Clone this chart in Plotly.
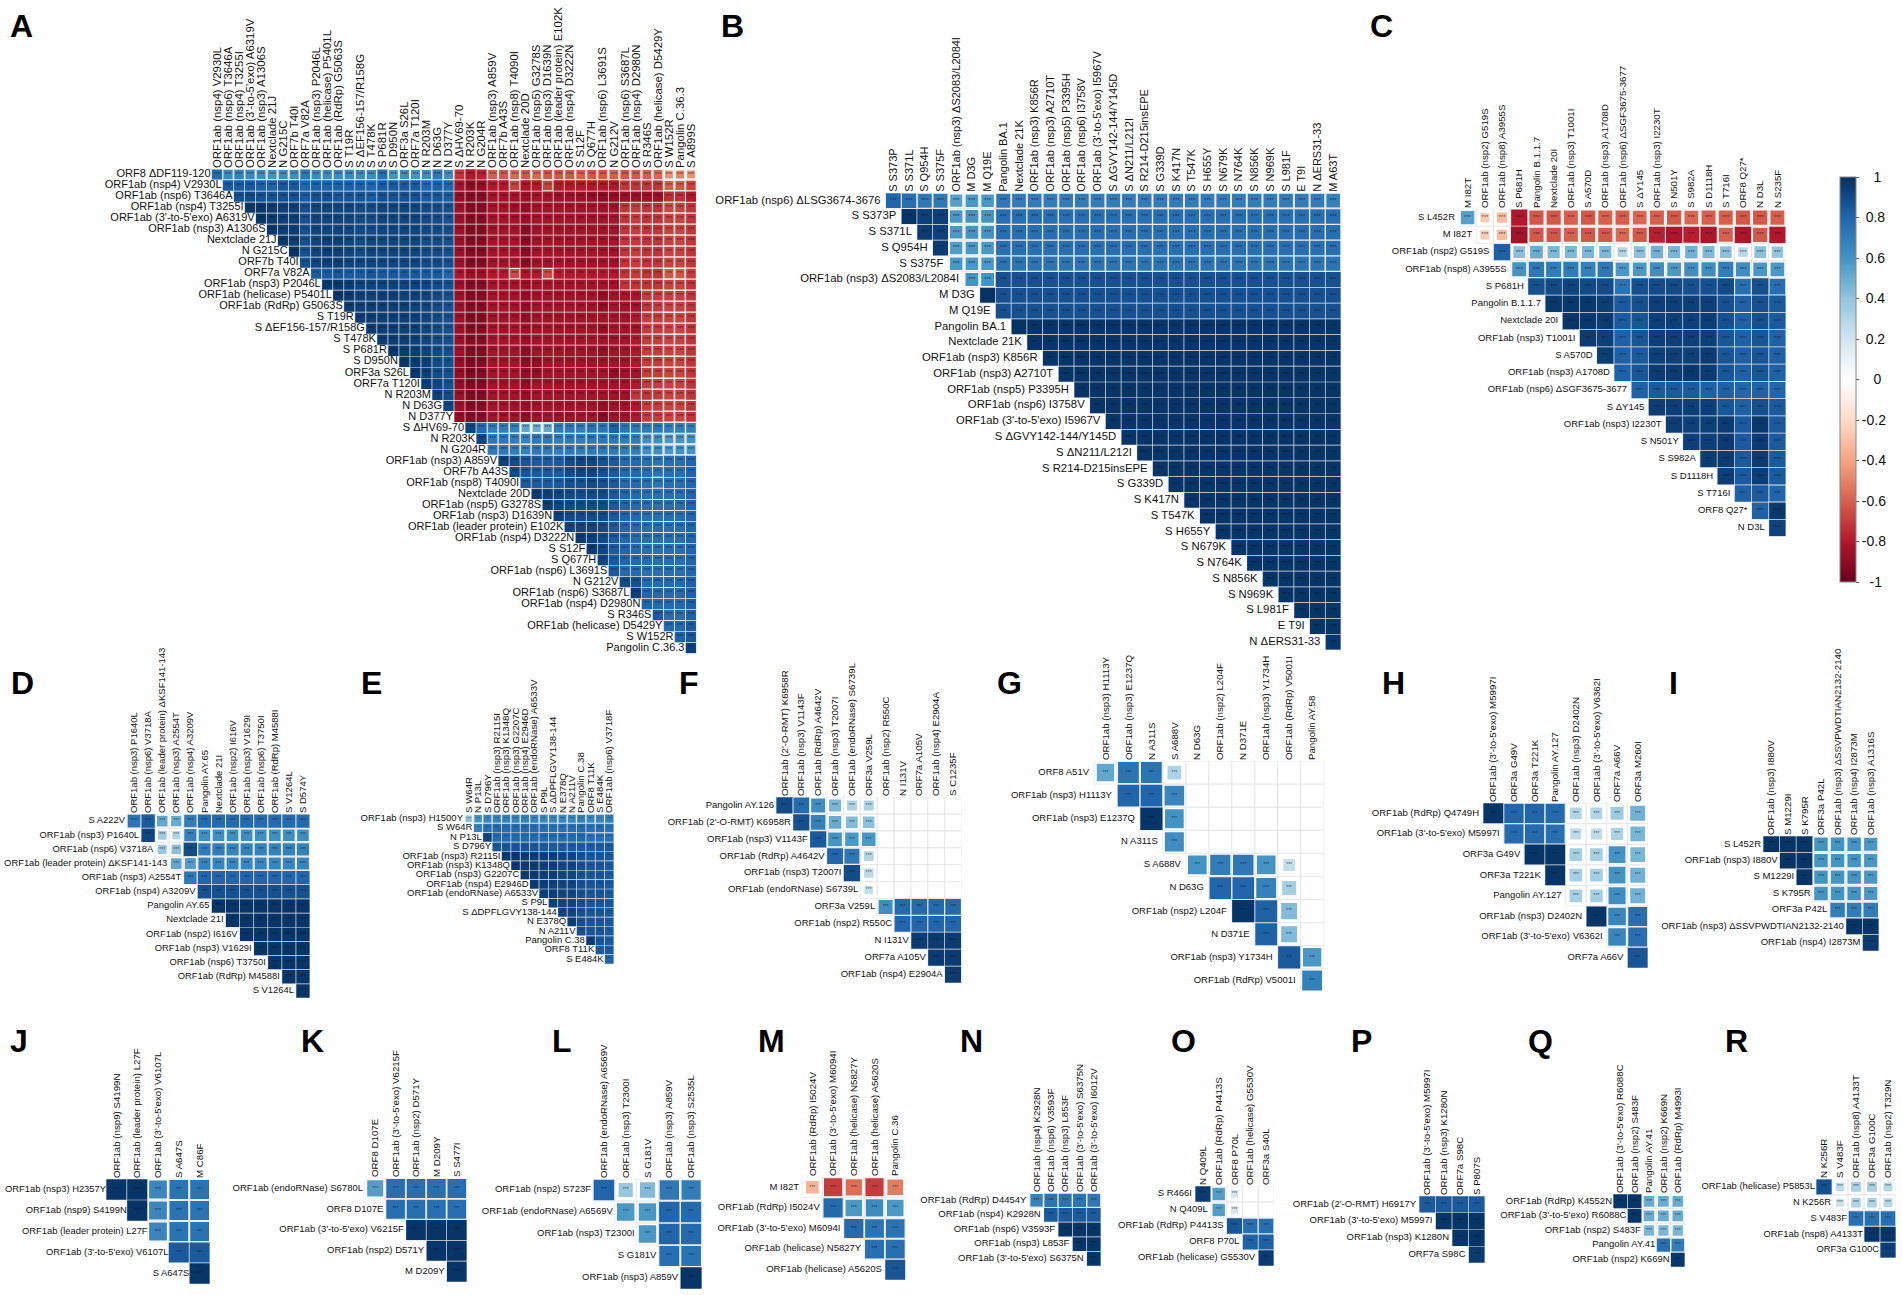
import plotly.graph_objects as go
from plotly.colors import sample_colorscale

P = "ORF1ab "
FONT = "Liberation Sans"
STOPS = ["#67001F", "#B2182B", "#D6604D", "#F4A582", "#FDDBC7", "#FFFFFF",
         "#D1E5F0", "#92C5DE", "#4393C3", "#2166AC", "#053061"]
COLORSCALE = [[k / 10, c] for k, c in enumerate(STOPS)]

A_COLS = [P+"(nsp4) V2930L", P+"(nsp6) T3646A", P+"(nsp4) T3255I", P+"(3'-to-5'exo) A6319V", P+"(nsp3) A1306S", "Nextclade 21J", "N G215C", "ORF7b T40I", "ORF7a V82A", P+"(nsp3) P2046L", P+"(helicase) P5401L", P+"(RdRp) G5063S", "S T19R", "S ΔEF156-157/R158G", "S T478K", "S P681R", "S D950N", "ORF3a S26L", "ORF7a T120I", "N R203M", "N D63G", "N D377Y", "S ΔHV69-70", "N R203K", "N G204R", P+"(nsp3) A859V", "ORF7b A43S", P+"(nsp8) T4090I", "Nextclade 20D", P+"(nsp5) G3278S", P+"(nsp3) D1639N", P+"(leader protein) E102K", P+"(nsp4) D3222N", "S S12F", "S Q677H", P+"(nsp6) L3691S", "N G212V", P+"(nsp6) S3687L", P+"(nsp4) D2980N", "S R346S", P+"(helicase) D5429Y", "S W152R", "Pangolin C.36.3", "S A899S"]
A_FIRST = "ORF8 ΔDF119-120"
A_R = [
[78,65,68,65,62,60,62,62,72,64,64,64,65,64,64,76,60,62,60,62,72,62,-72,-80,-78,-60,-62,-58,-62,-58,-62,-62,-62,-60,-62,-62,-60,-62,-62,-60,-58,-46,-50,-46],
[84,84,84,82,82,84,84,80,82,82,82,82,82,80,84,84,84,84,80,82,80,-84,-90,-88,-80,-80,-68,-82,-80,-68,-80,-80,-80,-80,-80,-80,-72,-72,-72,-72,-60,-62,-68],
[88,90,88,88,88,88,84,88,88,86,86,86,84,88,88,88,88,84,86,84,-88,-92,-92,-84,-84,-84,-86,-84,-84,-86,-86,-86,-88,-90,-88,-86,-86,-86,-86,-74,-74,-80],
[97,97,96,94,94,88,92,92,92,92,90,90,92,92,92,92,90,90,88,-86,-92,-92,-84,-84,-86,-88,-84,-84,-84,-84,-84,-84,-84,-84,-72,-70,-72,-72,-66,-68,-72],
[98,96,94,94,88,92,92,92,92,90,90,92,92,92,92,90,90,88,-86,-92,-92,-84,-84,-84,-86,-84,-84,-84,-84,-84,-84,-84,-84,-72,-70,-72,-72,-68,-68,-72],
[97,95,95,88,92,92,92,92,90,90,92,92,92,92,90,90,88,-86,-92,-92,-84,-84,-84,-90,-84,-84,-84,-84,-84,-84,-84,-84,-72,-70,-72,-72,-68,-68,-72],
[97,96,88,92,94,94,92,90,92,92,92,92,92,90,90,88,-86,-92,-92,-84,-84,-84,-90,-84,-84,-84,-84,-84,-84,-84,-84,-72,-70,-72,-72,-68,-68,-72],
[98,88,92,94,94,92,90,92,92,92,92,92,90,90,88,-86,-92,-92,-84,-84,-84,-90,-84,-84,-84,-84,-84,-84,-84,-84,-72,-70,-72,-72,-68,-68,-72],
[88,92,94,94,92,92,92,92,92,92,92,90,90,88,-86,-92,-92,-84,-84,-84,-90,-84,-84,-84,-84,-84,-84,-84,-84,-72,-70,-72,-72,-68,-68,-72],
[84,84,86,84,84,86,84,84,84,84,84,84,80,-82,-86,-86,-80,-80,-66,-82,-80,-66,-80,-80,-80,-80,-80,-80,-72,-70,-72,-72,-62,-62,-70],
[97,97,95,93,93,93,93,93,93,92,90,88,-86,-92,-92,-84,-84,-84,-86,-84,-84,-84,-84,-84,-84,-84,-84,-72,-72,-72,-72,-68,-68,-72],
[98,96,94,93,94,94,93,93,92,90,88,-86,-92,-92,-84,-84,-84,-88,-84,-84,-84,-84,-84,-84,-88,-84,-82,-82,-70,-70,-68,-68,-72],
[96,94,94,94,94,94,93,92,90,88,-86,-92,-92,-84,-84,-84,-88,-84,-84,-84,-84,-84,-84,-88,-84,-84,-84,-72,-70,-68,-68,-72],
[96,95,95,94,94,94,92,90,88,-86,-92,-92,-84,-84,-84,-88,-84,-84,-84,-84,-84,-84,-84,-84,-84,-80,-70,-70,-68,-68,-72],
[96,96,95,95,94,92,90,88,-86,-92,-92,-84,-84,-84,-86,-84,-84,-84,-84,-84,-84,-88,-84,-84,-84,-70,-70,-68,-68,-72],
[96,95,95,94,92,90,88,-86,-92,-92,-84,-84,-84,-86,-84,-84,-84,-84,-84,-84,-84,-84,-84,-80,-70,-70,-68,-68,-72],
[97,96,95,93,90,88,-86,-92,-92,-84,-84,-84,-88,-84,-84,-84,-84,-84,-84,-88,-84,-84,-80,-70,-70,-68,-68,-72],
[97,96,94,90,88,-88,-93,-92,-84,-84,-84,-88,-88,-84,-84,-84,-84,-84,-84,-84,-84,-80,-70,-70,-68,-68,-72],
[97,94,90,88,-88,-93,-92,-84,-84,-84,-88,-88,-84,-84,-84,-84,-84,-84,-88,-84,-84,-70,-70,-68,-68,-72],
[95,92,88,-88,-92,-92,-84,-84,-84,-88,-84,-84,-84,-84,-84,-84,-84,-84,-84,-80,-70,-70,-68,-68,-72],
[94,90,-86,-92,-92,-84,-84,-84,-86,-84,-84,-84,-84,-84,-84,-84,-84,-84,-72,-72,-70,-68,-68,-72],
[92,-86,-92,-90,-84,-84,-84,-86,-84,-84,-84,-84,-84,-84,-88,-84,-84,-80,-70,-70,-68,-68,-72],
[-88,-92,-90,-84,-84,-84,-88,-84,-84,-84,-84,-84,-84,-90,-84,-84,-80,-70,-70,-68,-68,-72],
[92,78,70,70,68,52,50,52,70,72,70,74,74,82,74,72,72,72,70,70,70],
[92,72,72,70,68,72,72,70,72,70,72,72,72,70,70,62,62,58,60,60],
[72,72,70,68,72,72,70,72,70,72,72,72,70,70,62,62,58,60,60],
[94,90,86,84,84,84,90,92,92,88,84,78,78,76,74,76,76,80],
[90,86,84,84,84,90,92,92,88,84,78,78,76,74,76,76,80],
[84,84,84,84,88,88,90,88,84,78,78,76,74,76,76,80],
[96,94,92,90,90,90,90,84,80,78,76,76,76,76,80],
[96,92,90,90,90,90,84,80,78,76,76,76,76,80],
[94,90,90,90,90,84,80,78,76,76,76,76,80],
[92,92,92,90,84,80,78,76,76,76,76,80],
[96,94,90,84,80,78,76,76,76,76,80],
[96,92,84,80,78,76,76,76,76,80],
[92,84,80,78,76,76,76,76,80],
[84,78,78,76,76,76,76,80],
[90,88,78,78,78,78,82],
[94,80,78,78,78,82],
[80,78,78,78,82],
[84,76,76,82],
[78,78,84],
[82,86],
[94],
]

B_COLS = ["S S373P", "S S371L", "S Q954H", "S S375F", P+"(nsp3) ΔS2083/L2084I", "M D3G", "M Q19E", "Pangolin BA.1", "Nextclade 21K", P+"(nsp3) K856R", P+"(nsp3) A2710T", P+"(nsp5) P3395H", P+"(nsp6) I3758V", P+"(3'-to-5'exo) I5967V", "S ΔGVY142-144/Y145D", "S ΔN211/L212I", "S R214-D215insEPE", "S G339D", "S K417N", "S T547K", "S H655Y", "S N679K", "S N764K", "S N856K", "S N969K", "S L981F", "E T9I", "N ΔERS31-33", "M A63T"]
B_FIRST = P+"(nsp6) ΔLSG3674-3676"
B_R = [
[80,76,72,72,55,58,58,72,70,70,70,70,70,70,70,70,70,70,70,70,70,70,70,70,70,70,70,70,68],
[98,94,94,58,60,60,76,76,76,76,76,76,76,76,76,76,76,76,76,76,76,76,76,76,76,76,76,76],
[96,94,58,60,60,76,76,76,76,76,76,76,76,76,76,76,76,76,76,76,76,76,76,76,76,76,76],
[96,56,58,58,76,76,76,76,76,76,76,76,76,76,76,76,76,76,76,76,76,76,76,76,76,76],
[58,58,58,74,74,74,74,74,74,74,74,74,74,74,74,74,74,74,74,74,74,74,74,74,74],
[60,60,88,88,88,88,88,88,88,88,88,88,88,88,88,88,88,88,88,88,88,88,88,88],
[99,88,88,88,88,88,88,88,88,88,88,88,88,88,88,88,88,88,88,88,88,88,88],
[88,88,88,88,88,88,88,88,88,88,88,88,88,88,88,88,88,88,88,88,88,88],
[99,98,98,98,98,98,98,98,98,98,98,98,98,98,98,98,98,98,98,98,98],
[98,98,98,98,98,98,98,98,98,98,98,98,98,98,98,98,98,98,98,98],
[98,98,98,98,98,98,98,98,98,98,98,98,98,98,98,98,98,98,98],
[98,98,98,98,98,98,98,98,98,98,98,98,98,98,98,98,98,98],
[98,98,98,98,98,98,98,98,98,98,98,98,98,98,98,98,98],
[98,98,98,98,98,98,98,98,98,98,98,98,98,98,98,98],
[98,98,98,98,98,98,98,98,98,98,98,98,98,98,98],
[98,98,98,98,98,98,98,98,98,98,98,98,98,98],
[98,98,98,98,98,98,98,98,98,98,98,98,98],
[98,98,98,98,98,98,98,98,98,98,98,98],
[98,98,98,98,98,98,98,98,98,98,98],
[98,98,98,98,98,98,98,98,98,98],
[98,98,98,98,98,98,98,98,98],
[98,98,98,98,98,98,98,98],
[98,98,98,98,98,98,98],
[98,98,98,98,98,98],
[98,98,98,98,98],
[98,98,98,98],
[98,98,98],
[98,98],
[97],
]

C_COLS = ["M I82T", P+"(nsp2) G519S", P+"(nsp8) A3955S", "S P681H", "Pangolin B.1.1.7", "Nextclade 20I", P+"(nsp3) T1001I", "S A570D", P+"(nsp3) A1708D", P+"(nsp6) ΔSGF3675-3677", "S ΔY145", P+"(nsp3) I2230T", "S N501Y", "S S982A", "S D1118H", "S T716I", "ORF8 Q27*", "N D3L", "N S235F"]
C_FIRST = "S L452R"
C_R = [
[55,-25,-32,-80,-62,-62,-60,-62,-60,-60,-58,-60,-62,-58,-60,-60,-62,-62,-60],
[-25,-32,-84,-62,-62,-60,-62,-62,-58,-62,-78,-82,-78,-82,-60,-82,-62,-80],
[82,42,50,45,45,45,45,30,42,48,46,48,45,42,28,42,40],
[60,72,70,70,68,72,58,58,62,58,62,62,70,62,58,58],
[88,90,92,90,90,74,88,90,90,88,88,90,76,88,76],
[97,97,97,95,84,88,94,94,94,94,88,82,88,84],
[98,97,96,84,86,94,94,94,95,88,82,88,84],
[96,94,82,86,94,94,94,94,86,82,86,82],
[95,82,84,94,94,94,96,86,82,86,82],
[82,86,96,96,97,96,86,82,86,82],
[82,84,84,84,82,82,80,82,80],
[95,94,94,94,86,82,88,84],
[95,94,94,96,84,97,84],
[94,94,96,84,96,84],
[95,96,84,96,84],
[95,84,95,84],
[82,84,80],
[82,97],
[93],
]

D_COLS = [P+"(nsp3) P1640L", P+"(nsp6) V3718A", P+"(leader protein) ΔKSF141-143", P+"(nsp3) A2554T", P+"(nsp4) A3209V", "Pangolin AY.65", "Nextclade 21I", P+"(nsp2) I616V", P+"(nsp3) V1629I", P+"(nsp6) T3750I", P+"(RdRp) M4588I", "S V1264L", "S D574Y"]
D_FIRST = "S A222V"
D_R = [
[74,84,52,50,70,78,78,78,78,78,78,78,78],
[92,36,30,68,62,62,62,62,62,62,62,62],
[38,42,90,70,70,68,68,68,68,68,68],
[52,56,68,66,66,66,66,66,66,66],
[72,80,80,80,80,80,80,80,80],
[88,88,88,88,88,88,88,88],
[98,98,98,98,98,98,98],
[98,98,98,98,98,98],
[98,98,98,98,98],
[98,98,98,98],
[98,98,98],
[98,98],
[98],
]

E_COLS = ["S W64R", "N P13L", "S D796Y", P+"(nsp3) R2115I", P+"(nsp3) K1348Q", P+"(nsp3) G2207C", P+"(nsp4) E2946D", P+"(endoRNase) A6533V", "S P9L", "S ΔDPFLGVY138-144", "N E378Q", "N A211V", "Pangolin C.38", "ORF8 T11K", "S E484K", P+"(nsp6) V3718F"]
E_FIRST = P+"(nsp3) H1500Y"
E_R = [
[42,60,66,68,68,68,68,68,66,66,66,66,68,66,66,70],
[68,76,78,78,78,78,78,76,76,76,76,78,76,76,74],
[92,78,78,78,78,78,78,78,78,78,80,76,76,76],
[86,86,86,86,86,84,84,84,84,84,84,84,84],
[97,97,96,96,94,94,92,92,88,86,86,84],
[97,96,96,94,94,92,92,88,86,86,84],
[96,96,94,94,92,92,88,86,86,84],
[96,94,94,92,92,88,86,86,84],
[94,94,92,92,88,86,86,84],
[94,92,92,88,86,86,84],
[92,92,88,86,86,84],
[94,88,86,86,84],
[88,86,86,84],
[96,86,84],
[84,84],
[80],
]

F_COLS = [P+"(2'-O-RMT) K6958R", P+"(nsp3) V1143F", P+"(RdRp) A4642V", P+"(nsp3) T2007I", P+"(endoRNase) S6739L", "ORF3a V259L", P+"(nsp2) R550C", "N I131V", "ORF7a A105V", P+"(nsp4) E2904A", "S C1235F"]
F_FIRST = "Pangolin AY.126"
F_R = [
[90,78,62,46,32,32,0,0,0,0,0],
[88,68,50,44,42,0,0,0,0,0],
[84,60,58,58,0,0,0,0,0],
[80,72,30,0,0,0,0,0],
[90,28,0,0,0,0,0],
[24,0,0,0,0,0],
[62,78,78,78,78],
[80,80,80,80],
[96,96,96],
[96,96],
[96],
]

G_COLS = [P+"(nsp3) H1113Y", P+"(nsp3) E1237Q", "N A311S", "S A688V", "N D63G", P+"(nsp2) L204F", "N D371E", P+"(nsp3) Y1734H", P+"(RdRp) V5001I", "Pangolin AY.58"]
G_FIRST = "ORF8 A51V"
G_R = [
[52,74,74,32,0,0,0,0,0,0],
[80,80,66,0,0,0,0,0,0],
[98,60,0,0,0,0,0,0],
[62,0,0,0,0,0,0],
[60,70,72,60,24,0],
[80,80,68,34,0],
[98,82,44,0],
[82,44,0],
[84,58],
[68],
]

H_COLS = [P+"(3'-to-5'exo) M5997I", "ORF3a G49V", "ORF3a T221K", "Pangolin AY.127", P+"(nsp3) D2402N", P+"(3'-to-5'exo) V6362I", "ORF7a A66V", "ORF3a M260I"]
H_FIRST = P+"(RdRp) Q4749H"
H_R = [
[98,80,80,78,30,30,36,48],
[78,78,76,26,26,32,46],
[98,98,34,34,60,46],
[98,34,34,60,48],
[34,34,62,48],
[98,66,76],
[66,76],
[86],
]

I_COLS = [P+"(nsp3) I880V", "S M1229I", "S K795R", "ORF3a P42L", P+"(nsp3) ΔSSVPWDTIAN2132-2140", P+"(nsp4) I2873M", P+"(nsp3) A1316S"]
I_FIRST = "S L452R"
I_R = [[98,98,98,60,60,60,58],[98,98,60,60,60,58],[98,60,60,60,58],[60,60,60,58],[70,70,70],[98,98],[96]]

J_COLS = [P+"(nsp9) S4199N", P+"(leader protein) L27F", P+"(3'-to-5'exo) V6107L", "S A647S", "M C86F"]
J_FIRST = P+"(nsp3) H2357Y"
J_R = [[98,98,66,74,74],[98,66,74,74],[66,74,74],[84,84],[98]]

K_COLS = ["ORF8 D107E", P+"(3'-to-5'exo) V6215F", P+"(nsp2) D571Y", "M D209Y", "S S477I"]
K_FIRST = P+"(endoRNase) S6780L"
K_R = [[56,76,76,76,76],[76,76,76,76],[98,98,98],[98,98],[98]]

L_COLS = [P+"(endoRNase) A6569V", P+"(nsp3) T2300I", "S G181V", P+"(nsp3) A859V", P+"(nsp3) S2535L"]
L_FIRST = P+"(nsp2) S723F"
L_R = [[80,38,44,72,70],[58,58,80,78],[58,80,78],[76,74],[98]]

M_COLS = [P+"(RdRp) I5024V", P+"(3'-to-5'exo) M6094I", P+"(helicase) N5827Y", P+"(helicase) A5620S", "Pangolin C.36"]
M_FIRST = "M I82T"
M_R = [[-34,-70,-56,-70,-52],[78,58,64,58],[78,74,74],[76,76],[86]]

N_COLS = [P+"(nsp4) K2928N", P+"(nsp6) V3593F", P+"(nsp3) L853F", P+"(3'-to-5'exo) S6375N", P+"(3'-to-5'exo) I6012V"]
N_FIRST = P+"(RdRp) D4454Y"
N_R = [[68,74,74,74,72],[84,84,84,84],[98,98,98],[98,98],[98]]

O_COLS = ["N Q409L", P+"(RdRp) P4413S", "ORF8 P70L", P+"(helicase) G5530V", "ORF3a S40L"]
O_FIRST = "S R466I"
O_R = [[96,56,20,0,0],[56,20,0,0],[86,76,76],[82,82],[96]]

P_COLS = [P+"(3'-to-5'exo) M5997I", P+"(nsp3) K1280N", "ORF7a S98C", "S P807S"]
P_FIRST = P+"(2'-O-RMT) H6917Y"
P_R = [[84,84,84,84],[98,98,98],[98,98],[96]]

Q_COLS = [P+"(3'-to-5'exo) R6088C", P+"(nsp2) S483F", "Pangolin AY.41", P+"(nsp2) K669N", P+"(RdRp) M4993I"]
Q_FIRST = P+"(RdRp) K4552N"
Q_R = [[98,98,50,50,50],[98,50,50,50],[46,46,46],[76,70],[97]]

R_COLS = ["N K256R", "S V483F", P+"(nsp8) A4133T", "ORF3a G100C", P+"(nsp2) T329N"]
R_FIRST = P+"(helicase) P5853L"
R_R = [[88,26,34,34,28],[22,32,32,28],[76,76,76],[98,98],[94]]

COLORBAR_TICKS = [-1, -0.8, -0.6, -0.4, -0.2, 0, 0.2, 0.4, 0.6, 0.8, 1]
COLORBAR_TEXT = ["-1", "-0.8", "-0.6", "-0.4", "-0.2", "0", "0.2", "0.4", "0.6", "0.8", "1"]
COLORBAR_PAD = [2, 0, 0, 0, 0, 3, 1, 1, 1, 1, 3]

# name: data + pixel box, tick font, row font, label gap, star font, letter x, letter y
PANELS = [
 ("A", A_COLS, A_FIRST, A_R, (211.5,169,696.5,653.6), 11.4, 11.0, 1, 5.5, 11, 13),
 ("B", B_COLS, B_FIRST, B_R, (885.5,192.8,1341,650), 11.0, 11.3, 5, 6, 722, 13),
 ("C", C_COLS, C_FIRST, C_R, (1459,209,1786,536.6), 9.7, 9.5, 4, 6, 1371, 13),
 ("D", D_COLS, D_FIRST, D_R, (127,814,310,998), 9.5, 9.4, 2, 5, 12, 670),
 ("E", E_COLS, E_FIRST, E_R, (464,814,614,964), 9.7, 9.5, 1, 4, 362, 670),
 ("F", F_COLS, F_FIRST, F_R, (776,797,961.5,983), 9.7, 9.5, 2, 5, 680, 670),
 ("G", G_COLS, G_FIRST, G_R, (1094,761,1323.6,992), 9.7, 9.5, 5, 5, 998, 670),
 ("H", H_COLS, H_FIRST, H_R, (1483,803,1648,968), 9.7, 9.5, 4, 5, 1383, 670),
 ("I", I_COLS, I_FIRST, I_R, (1763,836,1879,951), 9.7, 9.5, 2, 5, 1670, 670),
 ("J", J_COLS, J_FIRST, J_R, (106,1179,210,1284), 9.7, 9.4, 0, 5, 11, 1028),
 ("K", K_COLS, K_FIRST, K_R, (365,1178,467,1282), 9.7, 9.5, 2, 5, 302, 1028),
 ("L", L_COLS, L_FIRST, L_R, (593,1179,702,1289), 9.7, 9.5, 2, 5, 553, 1028),
 ("M", M_COLS, M_FIRST, M_R, (802,1177,905.6,1280), 9.7, 9.5, 3, 5, 759, 1028),
 ("N", N_COLS, N_FIRST, N_R, (1029.4,1193,1101,1266), 9.7, 9.5, 3, 5, 961, 1028),
 ("O", O_COLS, O_FIRST, O_R, (1195,1186,1274,1266), 9.7, 9.5, 3, 5, 1172, 1028),
 ("P", P_COLS, P_FIRST, P_R, (1419,1196,1485,1263), 9.7, 9.5, 3, 5, 1352, 1028),
 ("Q", Q_COLS, Q_FIRST, Q_R, (1613,1194,1685,1267), 9.7, 9.5, 1, 5, 1529, 1028),
 ("R", R_COLS, R_FIRST, R_R, (1816,1179,1896,1258), 9.7, 9.4, 1, 5, 1726, 1028),
]

W, H = 1902, 1295
fig = go.Figure()
layout = {}
annotations = []


def colour(r):
    return sample_colorscale(COLORSCALE, [(r + 1) / 2])[0]


def add_panel(idx, name, cols, first, mat, box, fs, rfs, gap, star, lx, ly):
    n = len(cols)
    xn, yn = f"x{idx}" if idx > 1 else "x", f"y{idx}" if idx > 1 else "y"
    xk, yk = xn.replace("x", "xaxis"), yn.replace("y", "yaxis")
    x0, y0, x1, y1 = box
    cw = (x1 - x0) / n
    # one spare cell on the left keeps the first row label inside the axis range
    layout[xk] = dict(domain=[(x0 - cw) / W, x1 / W], range=[-1.5, n - 0.5], anchor=yn, side="top",
                      tickmode="array", tickvals=list(range(n)), ticktext=cols, tickangle=-90,
                      tickfont=dict(family=FONT, size=fs, color="#111"), ticks="",
                      showgrid=False, zeroline=False, showline=False, automargin=False)
    layout[yk] = dict(domain=[1 - y1 / H, 1 - y0 / H], range=[n - 0.5, -0.5], anchor=xn,
                      showticklabels=False, ticks="", showgrid=False, zeroline=False,
                      showline=False, automargin=False)
    gx, gy = [], []
    for i in range(n):
        for j in range(i, n):
            gx += [j - .5, j + .5, j + .5, j - .5, j - .5, None]
            gy += [i - .5, i - .5, i + .5, i + .5, i - .5, None]
    fig.add_trace(go.Scatter(x=gx, y=gy, xaxis=xn, yaxis=yn, mode="lines",
                             line=dict(color="#e6e6e6", width=0.8), showlegend=False, hoverinfo="skip"))
    groups = {}
    for i, row in enumerate(mat):
        for k, v in enumerate(row):
            if v:
                groups.setdefault(v, []).append((i, i + k))
    limit = 1 - 0.7 / cw
    for v, cells in groups.items():
        h = min(limit, 1.05 * (abs(v) / 100) ** 0.5) / 2
        cx, cy = [], []
        for i, j in cells:
            cx += [j - h, j + h, j + h, j - h, j - h, None]
            cy += [i - h, i - h, i + h, i + h, i - h, None]
        fig.add_trace(go.Scatter(x=cx, y=cy, xaxis=xn, yaxis=yn, mode="lines", fill="toself",
                                 fillcolor=colour(v / 100), line=dict(width=0),
                                 showlegend=False, hoverinfo="skip"))
    sx, sy = [], []
    for i, row in enumerate(mat):
        for k, v in enumerate(row):
            if v and abs(v) < 99:
                sx.append(i + k)
                sy.append(i)
    fig.add_trace(go.Scatter(x=sx, y=sy, xaxis=xn, yaxis=yn, mode="text", text=["***"] * len(sx),
                             textfont=dict(family=FONT, size=star, color="rgba(20,20,30,0.75)"),
                             textposition="middle center", showlegend=False, hoverinfo="skip",
                             cliponaxis=False))
    rows = [first] + cols[:-1]
    fig.add_trace(go.Scatter(x=[i - .5 - gap / cw for i in range(n)], y=list(range(n)),
                             xaxis=xn, yaxis=yn, mode="text", text=rows,
                             textfont=dict(family=FONT, size=rfs, color="#111"),
                             textposition="middle left", showlegend=False, hoverinfo="skip",
                             cliponaxis=False))
    annotations.append(dict(text=f"<b>{name}</b>", xref="paper", yref="paper", x=lx / W, y=1 - (ly - 6) / H,
                            xanchor="left", yanchor="top", showarrow=False, xshift=-2,
                            font=dict(family=FONT, size=32, color="#000"), borderpad=0))


for idx, p in enumerate(PANELS, start=1):
    add_panel(idx, *p)

fig.add_trace(go.Scatter(x=[0], y=[0], xaxis="x3", yaxis="y3", mode="markers", showlegend=False, hoverinfo="skip",
                         marker=dict(size=1, opacity=0, color=[0], cmin=-1, cmax=1, colorscale=COLORSCALE,
                                     showscale=True,
                                     colorbar=dict(x=1840 / W, xanchor="left", y=1 - 177 / H, yanchor="top",
                                                   len=405, lenmode="pixels", thickness=16, thicknessmode="pixels",
                                                   xpad=0, ypad=0, outlinewidth=1, outlinecolor="#888",
                                                   tickmode="array", tickvals=COLORBAR_TICKS,
                                                   ticktext=["\u00a0" * k + t for k, t in zip(COLORBAR_PAD, COLORBAR_TEXT)],
                                                   ticks="outside", ticklen=3, tickcolor="#555",
                                                   tickfont=dict(family=FONT, size=14, color="#111")))))

fig.update_layout(width=W, height=H, margin=dict(l=0, r=0, t=0, b=0), plot_bgcolor="white", paper_bgcolor="white",
                  showlegend=False, hovermode=False, annotations=annotations, **layout)
fig.write_html("out.html", post_script="document.body.style.margin='0';", config={"displayModeBar": False})
